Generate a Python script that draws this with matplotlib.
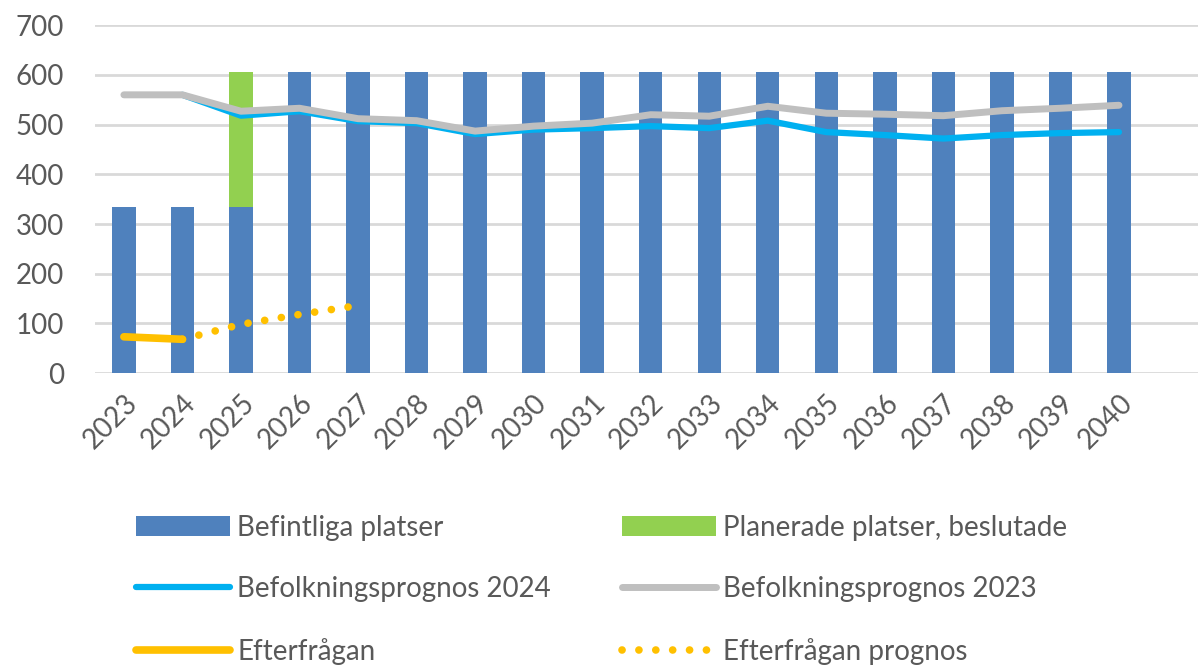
import numpy as np
import matplotlib.pyplot as plt

# ---- data ----
years = [str(y) for y in range(2023, 2041)]
befintliga = [335, 335, 335, 605, 605, 605, 605, 605, 605, 605, 605, 605, 605, 605, 605, 605, 605, 605]
planerade = [0, 0, 270, 0, 0, 0, 0, 0, 0, 0, 0, 0, 0, 0, 0, 0, 0, 0]
prognos_2024 = [np.nan, 560, 518, 527, 507, 503, 481, 490, 493, 497, 493, 508, 485, 479, 472, 479, 483, 485]
prognos_2023 = [560, 560, 527, 533, 512, 508, 487, 497, 503, 520, 517, 537, 523, 521, 518, 528, 533, 539]
efterfragan = [73, 68] + [np.nan] * 16
efterfragan_prognos = [np.nan, 68, 98, 118, 136] + [np.nan] * 13

# ---- style ----
plt.rcParams['font.family'] = ['Lato', 'DejaVu Sans']
text_col = '#595959'

fig = plt.figure(figsize=(11.98, 6.65), dpi=100)
ax = fig.add_axes([0.079, 0.439, 0.921, 0.523])

x = np.arange(len(years))
w = 0.4

b1 = ax.bar(x, befintliga, w, color='#4F81BD', zorder=2)
b2 = ax.bar(x, planerade, w, bottom=befintliga, color='#92D050', zorder=2)
l24, = ax.plot(x, prognos_2024, color='#00B0F0', lw=4.5, solid_capstyle='round', zorder=3)
l23, = ax.plot(x, prognos_2023, color='#BFBFBF', lw=5, solid_capstyle='round', zorder=4)
le, = ax.plot(x, efterfragan, color='#FFC000', lw=5.5, solid_capstyle='round', zorder=4)
lp, = ax.plot(x, efterfragan_prognos, color='#FFC000', lw=5.5, linestyle=(0, (0.01, 2.2)),
              dash_capstyle='round', zorder=4)

ax.set_ylim(0, 700)
ax.set_yticks(range(0, 701, 100))
ax.set_xlim(-0.5, 18.35)
ax.set_xticks(x)
ax.set_xticklabels(years, rotation=45, ha='right', rotation_mode='anchor')
ax.grid(axis='y', color='#D9D9D9', lw=2, zorder=0)
ax.set_axisbelow(True)
for s in ax.spines.values():
    s.set_visible(False)
ax.tick_params(length=0, labelsize=20, colors=text_col)
ax.tick_params(axis='y', pad=22)
ax.tick_params(axis='x', pad=12)

handles = [b1, l24, le, b2, l23, lp]
labels = ['Befintliga platser', 'Befolkningsprognos 2024', 'Efterfrågan',
          'Planerade platser, beslutade', 'Befolkningsprognos 2023', 'Efterfrågan prognos']
fig.legend(handles, labels, ncol=2, loc='upper left', bbox_to_anchor=(0.104, 0.243),
           frameon=False, fontsize=20, labelcolor=text_col, handlelength=3.4,
           handleheight=0.7, handletextpad=0.25, labelspacing=1.28, columnspacing=2.55,
           borderaxespad=0)

plt.savefig('out.png', dpi=100)
